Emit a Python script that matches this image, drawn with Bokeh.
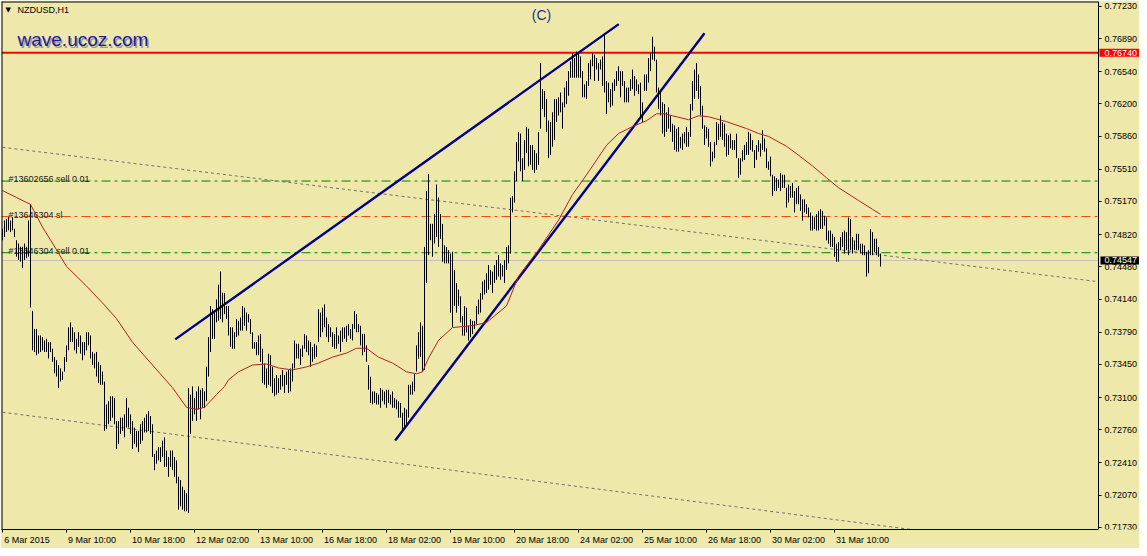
from bokeh.plotting import figure
from bokeh.models import Range1d, FixedTicker, PrintfTickFormatter, Span, Label, ColumnDataSource
from bokeh.embed import file_html
from bokeh.resources import INLINE

# ---------------- data (NZDUSD H1) ----------------
highs = [
    .74882, .74969, .74986, .75004, .74969, .75004, .74882, .74761, .74726, .74692,
    .74692, .74726, .74692, .74969, .75143, .74015, .73824, .73824, .73755, .73755,
    .73737, .73703, .73720, .73685, .73685, .73616, .73529, .73494, .73442, .73408,
    .73373, .73529, .73650, .73841, .73893, .73841, .73789, .73720, .73789, .73755,
    .73685, .73685, .73789, .73789, .73755, .73581, .73564, .73581, .73477, .73442,
    .73373, .73269, .73026, .73061, .73113, .73113, .73095, .72852, .72852, .72887,
    .72887, .72922, .73095, .72991, .72922, .72852, .72783, .72748, .72748, .72818,
    .72852, .72887, .72922, .72957, .72904, .72818, .72505, .72540, .72575, .72575,
    .72644, .72679, .72540, .72471, .72540, .72540, .72471, .72436, .72263, .72228,
    .72159, .72124, .72089, .73199, .73130, .73217, .73095, .73165, .73217, .73182,
    .73199, .73165, .73425, .73737, .74067, .74032, .73997, .74136, .74292, .74431,
    .74206, .74205, .74067, .74067, .73841, .73841, .73789, .73928, .73910, .73945,
    .74067, .74049, .73997, .73980, .73928, .73789, .73685, .73685, .73754, .73772,
    .73615, .73459, .73407, .73563, .73546, .73425, .73303, .73338, .73303, .73338,
    .73390, .73338, .73373, .73390, .73407, .73459, .73702, .73667, .73667, .73615,
    .73650, .73772, .73754, .73702, .73685, .73633, .73667, .73650, .74032, .73997,
    .74049, .74084, .73945, .73876, .73841, .73789, .73772, .73841, .73754, .73806,
    .73841, .73841, .73858, .73876, .73824, .73876, .74014, .73980, .73876, .73858,
    .73772, .73772, .73650, .73442, .73320, .73164, .73164, .73147, .73130, .73199,
    .73182, .73164, .73182, .73182, .73130, .73164, .73095, .73078, .73060, .73043,
    .72939, .72991, .72974, .73234, .73234, .73268, .73355, .73650, .73789, .73893,
    .73858, .74691, .75281, .75461, .74934, .74934, .75038, .75350, .75212, .75038,
    .74933, .74707, .74690, .74655, .74620, .74638, .74447, .74308, .74239, .74169,
    .73961, .74065, .74048, .73857, .73926, .73909, .73909, .74065, .74134, .74204,
    .74325, .74343, .74412, .74499, .74447, .74430, .74499, .74551, .74603, .74516,
    .74499, .74551, .74690, .74707, .75210, .75227, .75488, .75800, .75904, .75887,
    .75627, .75818, .75956, .75939, .75766, .75766, .75713, .75679, .75904, .76633,
    .76356, .76338, .76251, .76026, .76008, .76112, .76251, .76251, .76269, .76321,
    .76217, .76373, .76442, .76546, .76650, .76737, .76685, .76754, .76737, .76702,
    .76546, .76407, .76442, .76633, .76668, .76737, .76720, .76685, .76633, .76668,
    .76702, .76945, .76442, .76425, .76356, .76425, .76460, .76546, .76598, .76546,
    .76546, .76442, .76373, .76373, .76460, .76564, .76494, .76460, .76407, .76425,
    .76217, .76512, .76512, .76685, .76737, .76910, .76806, .76668, .76373, .76338,
    .76217, .76199, .76113, .76165, .76078, .75991, .75974, .75939, .75956, .75853,
    .75887, .75905, .75956, .75905, .76199, .76442, .76564, .76633, .76512, .76390,
    .76182, .75974, .75956, .75939, .75800, .75696, .75800, .76008, .75991, .76078,
    .76008, .75991, .75887, .75870, .75887, .75818, .75818, .75887, .75627, .75627,
    .75713, .75766, .75800, .75905, .75887, .75818, .75713, .75766, .75818, .75783,
    .75922, .75835, .75731, .75592, .75644, .75453, .75436, .75418, .75401, .75471,
    .75453, .75453, .75314, .75349, .75332, .75366, .75280, .75314, .75332, .75245,
    .75193, .75193, .75141, .75106, .75054, .75019, .75002, .75037, .75071, .75089,
    .75071, .75019, .75002, .74863, .74863, .74829, .74794, .74724, .74742, .74794,
    .74846, .74863, .74846, .75002, .74985, .74794, .74759, .74829, .74829, .74724,
    .74724, .74707, .74638, .74655, .74881, .74846, .74777, .74777, .74690, .74620,
]
lows = [
    .74761, .74796, .74848, .74865, .74848, .74865, .74796, .74587, .74553, .74535,
    .74466, .74553, .74570, .74587, .74050, .73598, .73581, .73546, .73564, .73581,
    .73598, .73581, .73581, .73512, .73581, .73477, .73356, .73321, .73199, .73269,
    .73286, .73373, .73477, .73598, .73685, .73685, .73598, .73564, .73633, .73564,
    .73494, .73546, .73598, .73650, .73512, .73442, .73408, .73321, .73252, .73234,
    .73234, .72748, .72766, .72818, .72852, .72887, .72818, .72557, .72609, .72714,
    .72748, .72679, .72783, .72783, .72714, .72557, .72609, .72575, .72523, .72609,
    .72644, .72731, .72731, .72748, .72714, .72471, .72332, .72401, .72436, .72419,
    .72471, .72367, .72367, .72263, .72367, .72332, .72263, .72193, .71916, .71950,
    .71916, .71898, .71898, .71881, .72714, .72852, .72922, .72852, .72974, .72870,
    .72991, .72991, .73061, .73321, .73581, .73720, .73720, .73893, .73911, .73928,
    .73893, .73980, .73928, .73754, .73633, .73615, .73615, .73737, .73754, .73806,
    .73806, .73858, .73806, .73893, .73772, .73615, .73615, .73546, .73546, .73477,
    .73251, .73234, .73199, .73234, .73216, .73147, .73112, .73130, .73147, .73182,
    .73216, .73147, .73234, .73147, .73164, .73268, .73407, .73511, .73511, .73442,
    .73529, .73615, .73581, .73546, .73425, .73477, .73511, .73529, .73685, .73737,
    .73789, .73841, .73737, .73685, .73737, .73633, .73615, .73615, .73667, .73581,
    .73685, .73720, .73685, .73754, .73720, .73702, .73824, .73789, .73789, .73650,
    .73546, .73581, .73477, .73182, .73043, .73026, .73043, .73026, .73026, .72991,
    .73060, .73026, .72991, .73043, .73026, .72991, .72991, .72974, .72887, .72887,
    .72748, .72783, .72817, .72887, .73130, .73130, .73164, .73373, .73511, .73529,
    .73373, .73390, .74309, .74604, .74761, .74587, .74726, .74795, .74691, .74776,
    .74534, .74516, .74516, .74516, .73996, .73840, .74065, .73996, .74065, .73892,
    .73753, .73753, .73788, .73701, .73735, .73770, .73822, .73874, .73978, .73996,
    .74134, .74187, .74204, .74239, .74291, .74204, .74308, .74343, .74378, .74343,
    .74378, .74308, .74447, .74516, .74620, .75054, .75158, .75384, .75592, .75488,
    .75384, .75505, .75679, .75540, .75557, .75505, .75471, .75505, .75557, .75939,
    .76147, .76060, .75904, .75627, .75661, .75748, .75818, .76008, .76078, .76112,
    .75939, .76164, .76199, .76286, .76477, .76477, .76477, .76477, .76477, .76477,
    .76269, .76269, .76251, .76390, .76459, .76598, .76442, .76564, .76442, .76564,
    .76390, .76321, .76095, .76217, .76164, .76182, .76338, .76390, .76442, .76269,
    .76390, .76217, .76217, .76217, .76338, .76356, .76286, .76338, .76303, .76043,
    .76008, .76338, .76338, .76425, .76546, .76668, .76650, .76321, .76147, .76078,
    .75887, .75853, .75905, .75939, .75905, .75800, .75713, .75696, .75696, .75731,
    .75713, .75783, .75748, .75748, .75853, .76130, .76251, .76338, .76251, .76078,
    .75939, .75766, .75835, .75748, .75540, .75592, .75627, .75766, .75818, .75853,
    .75818, .75748, .75644, .75661, .75731, .75713, .75713, .75627, .75418, .75453,
    .75592, .75609, .75661, .75661, .75713, .75696, .75523, .75609, .75696, .75644,
    .75713, .75696, .75523, .75505, .75436, .75228, .75280, .75280, .75314, .75280,
    .75314, .75314, .75106, .75158, .75210, .75210, .75054, .75141, .75141, .75071,
    .74967, .75054, .75037, .75002, .74863, .74863, .74881, .74863, .74863, .74881,
    .74881, .74915, .74759, .74724, .74690, .74690, .74586, .74534, .74534, .74655,
    .74690, .74620, .74655, .74603, .74655, .74620, .74655, .74655, .74655, .74620,
    .74603, .74603, .74377, .74412, .74603, .74603, .74638, .74603, .74586, .74482,
]

# moving average (red), sampled along the curve: bar number -> price
ma_bars = [0, 7, 14, 20, 27, 32, 42, 50, 57, 65, 75, 85, 92, 97, 101, 107, 111, 113, 118, 125,
           132, 138, 145, 152, 158, 165, 172, 177, 182, 188, 195, 202, 207, 210, 213, 218, 225, 235, 242, 252,
           258, 268, 278, 285, 292, 302, 308, 315, 322, 327, 331, 335, 343, 348, 353, 362, 372, 378, 383, 392,
           398, 405, 412, 418, 428, 435, 439]
ma_values = [.75285, .75212, .75139, .74900, .74660, .74484, .74276, .74099, .73932, .73683,
             .73443, .73204, .72996, .72975, .72996, .73131, .73215, .73287, .73371, .73443,
             .73454, .73412, .73391, .73423, .73464, .73526, .73569, .73620, .73620, .73526,
             .73464, .73371, .73350, .73371, .73516, .73703, .73839, .73859, .73891, .74067,
             .74380, .74660, .74973, .75243, .75451, .75763, .75888, .75961, .76023, .76096,
             .76096, .76075, .76034, .76075, .76065, .76013, .75940, .75888, .75857, .75753,
             .75659, .75545, .75420, .75316, .75181, .75087, .75035]

# blue channel trend lines (bar, price) start -> end
blue_x0 = [86.35, 196.35]
blue_y0 = [0.73714, 0.72645]
blue_x1 = [308.15, 351.0]
blue_y1 = [0.77043, 0.76946]

# grey dotted trend lines (run up to the price scale)
dot_x0 = [0, 0]
dot_y0 = [0.75742, 0.72944]
dot_x1 = [548, 548]
dot_y1 = [0.74323, 0.71451]

# horizontal levels
resistance_level = 0.76740
bid_price = 0.74547
order_levels = [0.75386, 0.75011, 0.74629]
order_texts = ["#13602656 sell 0.01", "#13646304 sl", "#13646304 sell 0.01"]
order_colors = ["#008000", "#FF4500", "#008000"]

# axes
price_ticks = [0.77230, 0.76890, 0.76540, 0.76200, 0.75860, 0.75510, 0.75170, 0.74820, 0.74480,
               0.74140, 0.73790, 0.73450, 0.73100, 0.72760, 0.72410, 0.72070, 0.71730]
tick_bars = [0, 32, 64, 96, 128, 160, 192, 224, 256, 288, 320, 352, 384, 416]
tick_labels = ["6 Mar 2015", "9 Mar 10:00", "10 Mar 18:00", "12 Mar 02:00", "13 Mar 10:00",
               "16 Mar 18:00", "18 Mar 02:00", "19 Mar 10:00", "20 Mar 18:00", "24 Mar 02:00",
               "25 Mar 10:00", "26 Mar 18:00", "30 Mar 02:00", "31 Mar 10:00"]

# ---------------- layout constants ----------------
BG = "#EEE8AA"
FONT = "Liberation Sans"
X0, X1 = -0.5, 568.5          # 2 px per bar across the 1138 px frame
SCALE_AT = 548                # bar position of the price scale line
Y0, Y1 = 0.71706, 0.77282
PX_PER_BAR = 2.0

n = min(len(highs), len(lows))
bars = list(range(n))

p = figure(width=1139, height=548, output_backend="svg", toolbar_location=None,
           x_range=Range1d(X0, X1), y_range=Range1d(Y0, Y1),
           y_axis_location="right",
           min_border_left=1, min_border_right=0, min_border_top=1, min_border_bottom=19,
           background_fill_color=BG, border_fill_color=BG,
           outline_line_color=None)
p.grid.visible = False

# price scale, drawn at a fixed position inside the frame (MT4 style)
ya = p.yaxis[0]
ya.fixed_location = SCALE_AT
ya.ticker = FixedTicker(ticks=price_ticks, minor_ticks=[])
ya.formatter = PrintfTickFormatter(format="%.5f")
ya.major_label_text_font = FONT
ya.major_label_text_font_size = "9px"
ya.major_label_text_color = "black"
ya.major_tick_out = 3
ya.major_tick_in = 0
ya.minor_tick_out = 0
ya.minor_tick_in = 0
ya.major_label_standoff = 3
ya.axis_line_color = "black"
ya.major_tick_line_color = "black"

# time scale: small tick marks at the bars, labels starting at each tick
CW = {**{d: 0.556 for d in "0123456789"}, " ": 0.278, "M": 0.833, "a": 0.556, "r": 0.333, ":": 0.278}


def text_w(s, size=9.0):
    return sum(CW.get(c, 0.556) for c in s) * size


label_pos = [round((tb + (1.5 + text_w(t) / 2) / PX_PER_BAR) * 4) / 4
             for tb, t in zip(tick_bars, tick_labels)]
xa = p.xaxis[0]
xa.bounds = (X0, SCALE_AT)
xa.ticker = FixedTicker(ticks=label_pos, minor_ticks=tick_bars)
xa.major_label_overrides = {pos: t for pos, t in zip(label_pos, tick_labels)}
xa.major_label_text_font = FONT
xa.major_label_text_font_size = "9px"
xa.major_label_text_color = "black"
xa.major_tick_line_color = None
xa.major_tick_out = 3
xa.major_tick_in = 0
xa.major_label_standoff = 2
xa.minor_tick_out = 3
xa.minor_tick_in = 0
xa.minor_tick_line_color = "black"
xa.axis_line_color = "black"

# frame borders (left and top)
p.add_layout(Span(location=X0, dimension="height", line_color="black", line_width=2))
p.segment(x0=[X0], y0=[Y1], x1=[SCALE_AT], y1=[Y1], line_color="black", line_width=2)

# order lines and labels (behind the bars)
for lvl, txt, col in zip(order_levels, order_texts, order_colors):
    p.segment(x0=[X0], y0=[lvl], x1=[SCALE_AT], y1=[lvl], line_color=col, line_width=1,
              line_dash="9 4 3 4", level="underlay")
    p.add_layout(Label(x=7, y=lvl, x_units="screen", y_units="data", text=txt,
                       text_font=FONT, text_font_size="9px", text_color="#202020",
                       text_baseline="alphabetic", y_offset=2, level="underlay"))

p.segment(x0=[X0], y0=[bid_price], x1=[SCALE_AT], y1=[bid_price], line_color="#C0C0C0",
          line_width=1, level="underlay")
p.segment(x0=[X0], y0=[resistance_level], x1=[SCALE_AT], y1=[resistance_level],
          line_color="#FF0000", line_width=2, level="underlay")

# grey dotted trend lines
p.segment(x0=dot_x0, y0=dot_y0, x1=dot_x1, y1=dot_y1, line_color="#707070",
          line_width=1, line_dash="3 3")

# blue trend lines
p.segment(x0=blue_x0, y0=blue_y0, x1=blue_x1, y1=blue_y1, line_color="#00008B",
          line_width=2.4)

# bars
src = ColumnDataSource(dict(bar=bars, high=highs[:n], low=lows[:n]))
p.segment(x0="bar", y0="low", x1="bar", y1="high", source=src, line_color="black", line_width=1)

# moving average
p.line(ma_bars, ma_values, line_color="#B22222", line_width=1)

# price boxes on the scale
box_pad = dict(left=5, right=6, top=1, bottom=1)
p.add_layout(Label(x=SCALE_AT, y=resistance_level, x_units="data", y_units="data", text="0.76740",
                   text_font=FONT, text_font_size="9px", text_color="white",
                   text_baseline="middle", text_align="left", x_offset=1,
                   background_fill_color="#FF0000", padding=box_pad))
p.add_layout(Label(x=SCALE_AT, y=bid_price, x_units="data", y_units="data", text="0.74547",
                   text_font=FONT, text_font_size="9px", text_color="white",
                   text_baseline="middle", text_align="left", x_offset=2,
                   background_fill_color="black", padding=dict(left=4, right=6, top=1, bottom=1)))

# header texts
p.add_layout(Label(x=4, y=0.77188, x_units="screen", y_units="data", text="\u25bc",
                   text_font="DejaVu Sans", text_font_size="7px", text_color="black",
                   text_baseline="middle"))
p.add_layout(Label(x=16, y=0.77188, x_units="screen", y_units="data", text="NZDUSD,H1",
                   text_font=FONT, text_font_size="9px", text_color="black",
                   text_baseline="middle"))
p.add_layout(Label(x=17.5, y=0.76876, x_units="screen", y_units="data", text="wave.ucoz.com",
                   text_font=FONT, text_font_size="19px", text_color="#9A9A9A",
                   text_baseline="alphabetic", y_offset=-1.5))
p.add_layout(Label(x=16, y=0.76876, x_units="screen", y_units="data", text="wave.ucoz.com",
                   text_font=FONT, text_font_size="19px", text_color="#1C1C96",
                   text_baseline="alphabetic"))
p.add_layout(Label(x=269.5, y=0.77136, x_units="data", y_units="data", text="(C)",
                   text_font=FONT, text_font_size="14px", text_color="#2A2AA0",
                   text_align="center", text_baseline="middle"))

open("out.html", "w").write(file_html(p, INLINE))
